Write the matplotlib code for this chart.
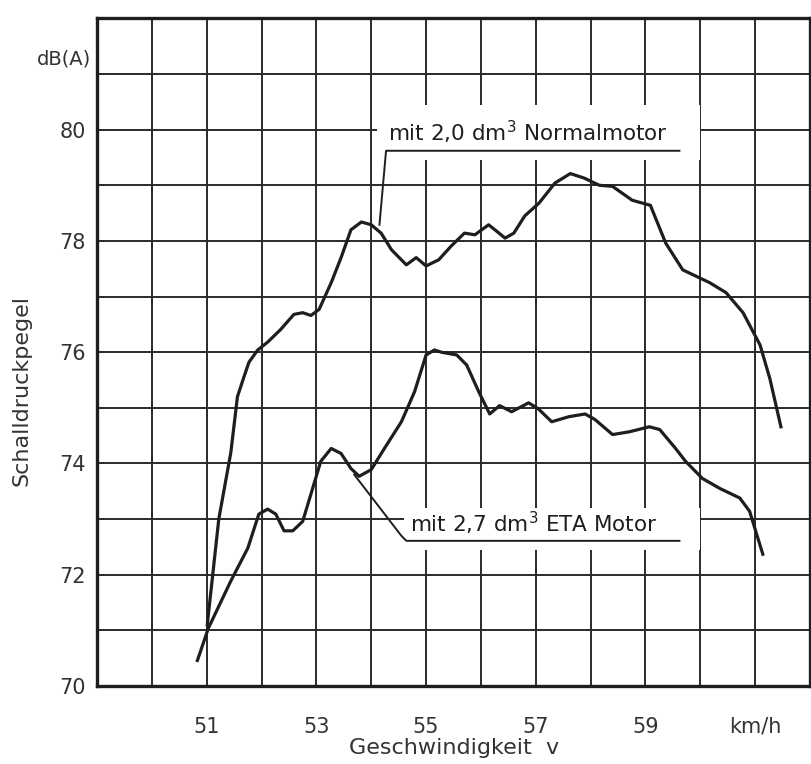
import matplotlib.pyplot as plt
from matplotlib.patches import Rectangle

# ---- Data ----
normal_v = [51.01, 51.22, 51.44, 51.56, 51.66, 51.77, 51.93, 52.11, 52.35, 52.59,
            52.75, 52.90, 53.05, 53.27, 53.45, 53.63, 53.82, 54.00, 54.18, 54.37,
            54.64, 54.82, 55.00, 55.23, 55.46, 55.70, 55.89, 56.14, 56.33, 56.44,
            56.60, 56.80, 57.06, 57.35, 57.63, 57.88, 58.16, 58.40, 58.76, 59.09,
            59.37, 59.68, 60.17, 60.47, 60.78, 61.09, 61.27, 61.47]
normal_db = [71.1, 73.0, 74.2, 75.2, 75.5, 75.82, 76.04, 76.18, 76.41, 76.68,
             76.71, 76.66, 76.77, 77.25, 77.7, 78.2, 78.34, 78.29, 78.14, 77.84,
             77.57, 77.70, 77.55, 77.66, 77.91, 78.14, 78.11, 78.29, 78.14, 78.05,
             78.14, 78.45, 78.68, 79.04, 79.21, 79.13, 79.0, 78.98, 78.73, 78.64,
             77.96, 77.48, 77.25, 77.07, 76.71, 76.13, 75.52, 74.66]

eta_v = [50.83, 51.03, 51.44, 51.75, 51.95, 52.11, 52.26, 52.41, 52.57, 52.75,
         52.90, 53.08, 53.27, 53.45, 53.63, 53.78, 54.00, 54.24, 54.55, 54.79,
         55.00, 55.15, 55.28, 55.56, 55.74, 55.96, 56.16, 56.34, 56.56, 56.87,
         57.05, 57.29, 57.60, 57.90, 58.08, 58.40, 58.71, 59.07, 59.26, 59.55,
         59.73, 60.04, 60.36, 60.72, 60.90, 61.14]
eta_db = [70.46, 71.04, 71.89, 72.48, 73.09, 73.18, 73.09, 72.79, 72.79, 72.96,
          73.45, 74.04, 74.27, 74.18, 73.91, 73.77, 73.89, 74.27, 74.75, 75.29,
          75.95, 76.04, 76.0, 75.95, 75.77, 75.29, 74.89, 75.04, 74.93, 75.09,
          74.98, 74.75, 74.84, 74.89, 74.79, 74.52, 74.57, 74.66, 74.61, 74.27,
          74.04, 73.73, 73.55, 73.38, 73.14, 72.37]

x_ticks = list(range(49, 63))
x_labels = {51: "51", 53: "53", 55: "55", 57: "57", 59: "59", 61: "km/h"}
y_ticks = list(range(70, 83))
y_labels = {70: "70", 72: "72", 74: "74", 76: "76", 78: "78", 80: "80"}

label_normal = "mit 2,0 dm$^3$ Normalmotor"
label_eta = "mit 2,7 dm$^3$ ETA Motor"

plt.rcParams['font.family'] = ['DejaVu Sans']

ink = '#1e1e1e'
fig = plt.figure(figsize=(8.12, 7.64), dpi=100)
ax = fig.add_axes([0.1195, 0.102, 0.878, 0.874])

ax.set_xlim(49, 62)
ax.set_ylim(70, 82)
ax.set_xticks(x_ticks)
ax.set_xticklabels([x_labels.get(t, "") for t in x_ticks])
ax.set_yticks(y_ticks)
ax.set_yticklabels([y_labels.get(t, "") for t in y_ticks])
ax.tick_params(length=0, labelsize=15, colors='#333333')
ax.tick_params(axis='x', pad=22)
ax.tick_params(axis='y', pad=8)
ax.set_axisbelow(True)
ax.grid(True, color='#2a2a2a', linewidth=1.4)
for s in ax.spines.values():
    s.set_linewidth(2.4)
    s.set_color(ink)

# white patches where the labels cut the grid
ax.add_patch(Rectangle((54.1, 79.45), 5.9, 1.0, facecolor='white', edgecolor='none', zorder=1))
ax.add_patch(Rectangle((54.6, 72.45), 5.4, 0.75, facecolor='white', edgecolor='none', zorder=1))

ax.plot(normal_v, normal_db, color=ink, lw=2.3, zorder=3, solid_joinstyle='round')
ax.plot(eta_v, eta_db, color=ink, lw=2.3, zorder=3, solid_joinstyle='round')

# labels with leader lines
ax.text(54.3, 79.8, label_normal, fontsize=15.5, color=ink, va='baseline', zorder=4)
ax.plot([54.15, 54.27, 59.62], [78.29, 79.62, 79.62], color=ink, lw=1.4, zorder=4)
ax.text(54.7, 72.76, label_eta, fontsize=15.5, color=ink, va='baseline', zorder=4)
ax.plot([53.69, 54.55, 54.64, 59.62], [73.80, 72.70, 72.61, 72.61], color=ink, lw=1.4, zorder=4)

ax.text(48.9, 81.27, "dB(A)", fontsize=14, color='#333333', ha='right', va='center', clip_on=False)
fig.text(454 / 812, 1 - 748 / 764, "Geschwindigkeit  v", fontsize=16, color='#333333',
         ha='center', va='center')
fig.text(22 / 812, 1 - 390 / 764, "Schalldruckpegel", fontsize=16, color='#333333',
         ha='center', va='center', rotation=90)

fig.savefig("out.png", dpi=100)
